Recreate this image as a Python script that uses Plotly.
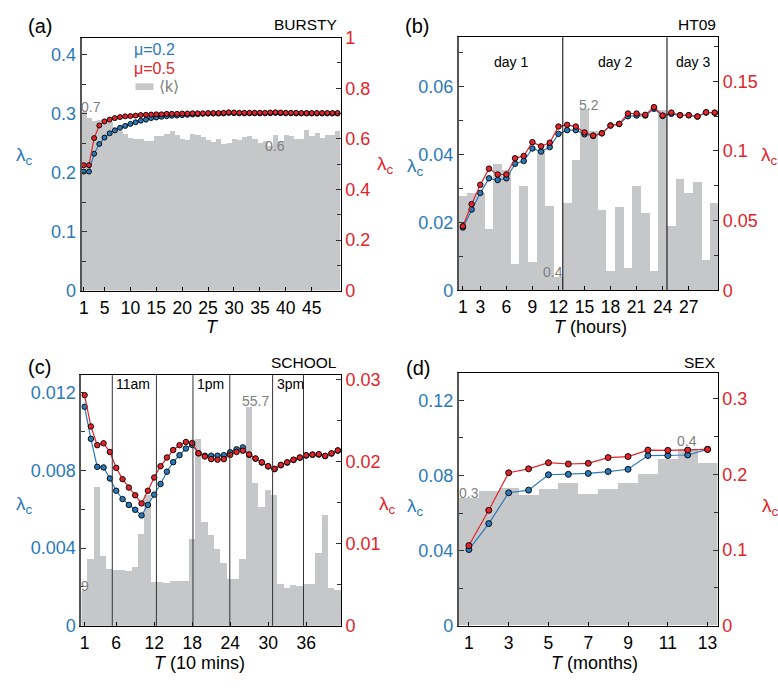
import plotly.graph_objects as go

W, H = 778, 688
BLUE = "#2a7ab9"
RED = "#e2242b"
BAR = "#c6c7c9"
GTXT = "#808080"
FONT = "Liberation Sans, Arial, Helvetica, sans-serif"

# ---------------- (a) BURSTY ----------------
T_a = list(range(1, 51))
blue_a = [0.2016, 0.2016, 0.2319, 0.2484, 0.2593, 0.2665, 0.2714, 0.2758, 0.2791, 0.2824,
          0.2852, 0.2879, 0.2896, 0.2923, 0.2934, 0.2945, 0.2956, 0.2962, 0.2967, 0.2973,
          0.2978, 0.2984, 0.2989, 0.2995, 0.2998, 0.2999, 0.3000, 0.3001, 0.3010, 0.3006,
          0.3003, 0.3003, 0.3003, 0.3003, 0.3002, 0.3003, 0.3005, 0.3010, 0.3006, 0.3003,
          0.3003, 0.3002, 0.3001, 0.3001, 0.3001, 0.3001, 0.3001, 0.3001, 0.3001, 0.3001]
red_a = [0.496, 0.496, 0.603, 0.653, 0.669, 0.676, 0.682, 0.686, 0.689, 0.690,
         0.692, 0.694, 0.695, 0.696, 0.697, 0.697, 0.699, 0.699, 0.699, 0.700,
         0.700, 0.701, 0.701, 0.701, 0.702, 0.702, 0.702, 0.703, 0.705, 0.704,
         0.703, 0.703, 0.703, 0.703, 0.703, 0.703, 0.704, 0.705, 0.704, 0.703,
         0.703, 0.703, 0.702, 0.702, 0.702, 0.702, 0.702, 0.702, 0.702, 0.702]
k_a = [0.708, 0.682, 0.672, 0.676, 0.678, 0.668, 0.650, 0.632, 0.622, 0.604,
       0.600, 0.600, 0.594, 0.594, 0.612, 0.612, 0.622, 0.632, 0.618, 0.600,
       0.598, 0.620, 0.618, 0.610, 0.598, 0.590, 0.602, 0.580, 0.585, 0.602,
       0.598, 0.610, 0.612, 0.600, 0.585, 0.592, 0.572, 0.615, 0.594, 0.618,
       0.612, 0.600, 0.600, 0.637, 0.612, 0.624, 0.605, 0.618, 0.615, 0.631]
xt_a = [1, 5, 10, 15, 20, 25, 30, 35, 40, 45]

# ---------------- (b) HT09 ----------------
T_b = list(range(1, 31))
blue_b = [0.0185, 0.0238, 0.0287, 0.0330, 0.0325, 0.0330, 0.0373, 0.0381, 0.0418, 0.0409,
          0.0422, 0.0461, 0.0472, 0.0472, 0.0460, 0.0455, 0.0463, 0.0486, 0.0490, 0.0513,
          0.0515, 0.0515, 0.0535, 0.0514, 0.0520, 0.0516, 0.0516, 0.0512, 0.0524, 0.0523]
red_b = [0.0460, 0.0618, 0.0757, 0.0873, 0.0831, 0.0831, 0.0947, 0.0964, 0.1063, 0.1033,
         0.1059, 0.1175, 0.1187, 0.1175, 0.1133, 0.1110, 0.1126, 0.1182, 0.1194, 0.1268,
         0.1268, 0.1259, 0.1314, 0.1254, 0.1275, 0.1256, 0.1256, 0.1247, 0.1277, 0.1275]
k_b = [2.69, 2.78, 2.78, 1.75, 3.61, 3.45, 0.74, 2.98, 0.81, 3.98,
       2.42, 0.37, 2.50, 3.73, 5.20, 4.56, 2.30, 0.54, 2.38, 0.63,
       2.98, 2.22, 0.56, 5.16, 1.84, 3.20, 2.79, 3.11, 0.86, 2.50]
xt_b = [1, 3, 6, 9, 12, 15, 18, 21, 24, 27]
day_bounds_b = [12.5, 24.5]
day_labels_b = ["day 1", "day 2", "day 3"]

# ---------------- (c) SCHOOL ----------------
T_c = list(range(1, 42))
blue_c = [0.01127, 0.00962, 0.00818, 0.00815, 0.00758, 0.00695, 0.00652, 0.00622, 0.00597, 0.00568,
          0.00622, 0.00675, 0.00730, 0.00793, 0.00842, 0.00878, 0.00912, 0.00930, 0.00888, 0.00875,
          0.00875, 0.00875, 0.00878, 0.00893, 0.00908, 0.00918, 0.00880, 0.00860, 0.00840, 0.00820,
          0.00806, 0.00826, 0.00840, 0.00853, 0.00865, 0.00876, 0.00880, 0.00881, 0.00873, 0.00886,
          0.00901]
red_c = [0.02811, 0.02429, 0.02201, 0.02224, 0.02118, 0.01925, 0.01787, 0.01685, 0.01591, 0.01492,
         0.01646, 0.01807, 0.01945, 0.02051, 0.02142, 0.02201, 0.02240, 0.02228, 0.02102, 0.02063,
         0.02031, 0.02024, 0.02031, 0.02083, 0.02118, 0.02134, 0.02087, 0.02039, 0.01992, 0.01945,
         0.01913, 0.01961, 0.01992, 0.02024, 0.02051, 0.02079, 0.02087, 0.02091, 0.02071, 0.02102,
         0.02138]
k_c = [8.9, 16.9, 35.4, 17.7, 14.4, 14.2, 14.1, 13.9, 14.9, 23.3,
       33.2, 11.1, 11.1, 10.8, 11.3, 11.3, 11.5, 22.1, 47.5, 26.4,
       23.0, 19.5, 16.1, 11.8, 11.8, 17.1, 55.7, 36.2, 30.3, 34.6,
       33.2, 10.7, 9.7, 10.3, 10.1, 10.7, 10.7, 18.4, 28.3, 9.7,
       9.1]
xt_c = [1, 6, 12, 18, 24, 30, 36]
class_bounds_c = [5.38, 12.35, 18.12, 23.94, 30.7, 35.58]
hour_labels_c = {5.38: "11am", 18.12: "1pm", 30.7: "3pm"}

# ---------------- (d) SEX ----------------
T_d = list(range(1, 14))
blue_d = [0.0406, 0.0544, 0.0708, 0.0722, 0.0804, 0.0806, 0.0811, 0.0821, 0.0833, 0.0906,
          0.0906, 0.0909, 0.0939]
red_d = [0.1060, 0.1526, 0.2022, 0.2073, 0.2154, 0.2137, 0.2146, 0.2222, 0.2235, 0.2321,
         0.2317, 0.2321, 0.2329]
k_d = [0.289, 0.305, 0.313, 0.296, 0.310, 0.323, 0.298, 0.310, 0.323, 0.343,
       0.378, 0.400, 0.369]
xt_d = [1, 3, 5, 7, 9, 11, 13]


def fmt(v):
    if v == 0:
        return "0"
    s = ("%.4f" % v).rstrip("0").rstrip(".")
    return s


panels = [
    dict(T=T_a, blue=blue_a, red=red_a, k=k_a, box=(79, 339, 28.5, 289),
         xr=[0.6, 50.6], yl=[0, 3 / 7], yr=[0, 1], yk=[0, 1], xt=xt_a,
         ylt=[0, 0.1, 0.2, 0.3, 0.4], ylm=0.05, yrt=[0, 0.2, 0.4, 0.6, 0.8, 1], yrm=0.1, ms=5),
    dict(T=T_b, blue=blue_b, red=red_b, k=k_b, box=(457.7, 718, 28, 288.7),
         xr=[0.54, 30.4], yl=[0, 0.0746], yr=[0, 0.1816], yk=[0, 7.26], xt=xt_b,
         ylt=[0, 0.02, 0.04, 0.06], ylm=0.01, yrt=[0, 0.05, 0.1, 0.15], yrm=0.025, ms=5.5),
    dict(T=T_c, blue=blue_c, red=red_c, k=k_c, box=(78.7, 339.3, 376, 634.3),
         xr=[0.5, 41.5], yl=[0, 0.0129], yr=[0, 0.03055], yk=[0, 63.8], xt=xt_c,
         ylt=[0, 0.004, 0.008, 0.012], ylm=0.002, yrt=[0, 0.01, 0.02, 0.03], yrm=0.005, ms=5.5),
    dict(T=T_d, blue=blue_d, red=red_d, k=k_d, box=(457.7, 717.3, 374.3, 634.3),
         xr=[0.5, 13.5], yl=[0, 0.1343], yr=[0, 0.3333], yk=[0, 0.573], xt=xt_d,
         ylt=[0, 0.04, 0.08, 0.12], ylm=0.02, yrt=[0, 0.1, 0.2, 0.3], yrm=0.05, ms=6),
]

fig = go.Figure()
layout = dict(width=W, height=H, margin=dict(l=0, r=0, t=0, b=0),
              paper_bgcolor="white", plot_bgcolor="white", showlegend=False,
              font=dict(family=FONT, color="black", size=16), bargap=0)

for i, p in enumerate(panels):
    xn = "" if i == 0 else str(i + 1)
    yb, yl, yr = 3 * i + 1, 3 * i + 2, 3 * i + 3
    ybn = "" if yb == 1 else str(yb)
    x0, x1, y0, y1 = p["box"]
    xdom = [x0 / W, x1 / W]
    ydom = [1 - y1 / H, 1 - y0 / H]

    fig.add_trace(go.Bar(x=p["T"], y=p["k"], width=1, marker=dict(color=BAR, line=dict(width=0)),
                         xaxis="x" + xn, yaxis="y" + ybn, hoverinfo="skip"))
    fig.add_trace(go.Scatter(x=p["T"], y=p["blue"], mode="lines+markers",
                             line=dict(color=BLUE, width=1.2),
                             marker=dict(size=p["ms"], color=BLUE, line=dict(color="black", width=0.9)),
                             xaxis="x" + xn, yaxis="y" + str(yl)))
    fig.add_trace(go.Scatter(x=p["T"], y=p["red"], mode="lines+markers",
                             line=dict(color=RED, width=1.2),
                             marker=dict(size=p["ms"], color=RED, line=dict(color="black", width=0.9)),
                             xaxis="x" + xn, yaxis="y" + str(yr)))

    layout["xaxis" + xn] = dict(domain=xdom, anchor="y" + ybn, range=p["xr"],
                                tickmode="array", tickvals=p["xt"], ticktext=[str(v) for v in p["xt"]],
                                ticks="inside", ticklen=4, tickcolor="black", ticklabelstandoff=1,
                                showline=True, linecolor="black", linewidth=1, mirror=True,
                                showgrid=False, zeroline=False,
                                tickfont=dict(size=17.5, color="black", family=FONT))
    layout["yaxis" + ybn] = dict(domain=ydom, anchor="x" + xn, range=p["yk"], visible=False,
                                 showgrid=False, zeroline=False)
    layout["yaxis" + str(yl)] = dict(overlaying="y" + ybn, side="left", anchor="x" + xn, range=p["yl"],
                                     tickmode="array", tickvals=p["ylt"], ticktext=[fmt(v) for v in p["ylt"]],
                                     ticks="inside", ticklen=5, tickcolor="#333",
                                     minor=dict(tickmode="linear", tick0=0, dtick=p["ylm"], ticks="inside",
                                                ticklen=4, tickcolor="#333"),
                                     showline=True, linecolor="#555", linewidth=2,
                                     showgrid=False, zeroline=False,
                                     tickfont=dict(size=18, color=BLUE, family=FONT))
    layout["yaxis" + str(yr)] = dict(overlaying="y" + ybn, side="right", anchor="x" + xn, range=p["yr"],
                                     tickmode="array", tickvals=p["yrt"], ticktext=[fmt(v) for v in p["yrt"]],
                                     ticks="inside", ticklen=5, tickcolor="#333",
                                     minor=dict(tickmode="linear", tick0=0, dtick=p["yrm"], ticks="inside",
                                                ticklen=4, tickcolor="#333"),
                                     showline=True, linecolor="black", linewidth=1,
                                     showgrid=False, zeroline=False,
                                     tickfont=dict(size=18, color=RED, family=FONT))

annotations = []
shapes = []


def ann(text, x, y, size, color="black", xanchor="center", yanchor="middle"):
    annotations.append(dict(text=text, x=x / W, y=1 - y / H, xref="paper", yref="paper",
                            xanchor=xanchor, yanchor=yanchor, showarrow=False,
                            font=dict(size=size, color=color, family=FONT)))


# panel labels and titles
for lab, x, y in [("(a)", 37, 16), ("(b)", 416, 16), ("(c)", 37, 368), ("(d)", 417, 369)]:
    ann(lab, x, y, 20)
for lab, x, y in [("BURSTY", 337, 15), ("HT09", 718, 15), ("SCHOOL", 337, 363), ("SEX", 718, 363)]:
    ann(lab, x, y, 15.5, xanchor="right")

# lambda_c axis labels
LC = "λ<sub>c</sub>"
for x, y, c in [(22, 150, BLUE), (384, 160, RED), (414, 162, BLUE), (769, 150, RED),
                (22, 510, BLUE), (386, 510, RED), (414, 512, BLUE), (770, 512, RED)]:
    ann(LC, x, y, 19, c)

# x-axis titles
for t, x, y in [("<i>T</i>", 210, 327), ("<i>T</i> (hours)", 590, 327),
                ("<i>T</i> (10 mins)", 197, 673), ("<i>T</i> (months)", 594, 673)]:
    ann(t, x, y, 18)

# grey value labels of <k>
for t, x, y in [("0.7", 88, 100), ("0.6", 273, 140), ("5.2", 588, 98), ("0.4", 552, 270),
                ("55.7", 253, 403), ("9", 82, 593), ("0.3", 468, 497), ("0.4", 687, 444)]:
    ann(t, x, y, 14, GTXT)

# legend in (a)
ann("μ=0.2", 152, 41, 16, BLUE)
ann("μ=0.5", 152, 60, 16, RED)
ann("⟨k⟩", 155, 79, 16, GTXT, xanchor="left")
shapes.append(dict(type="rect", xref="paper", yref="paper", x0=133 / W, x1=151 / W,
                   y0=1 - 82.5 / H, y1=1 - 75.5 / H, fillcolor=BAR, line=dict(width=0)))

# day boundaries (b)
bx = [panels[1]["xr"][0]] + day_bounds_b + [panels[1]["xr"][1]]
for xb in day_bounds_b:
    shapes.append(dict(type="line", xref="x2", yref="y4 domain", x0=xb, x1=xb, y0=0, y1=1,
                       line=dict(color="black", width=1), layer="above"))
for j, lab in enumerate(day_labels_b):
    annotations.append(dict(text=lab, x=(bx[j] + bx[j + 1]) / 2, y=1 - 43 / H, xref="x2", yref="paper",
                            showarrow=False, font=dict(size=14, color="black", family=FONT)))

# class boundaries (c)
for xb in class_bounds_c:
    shapes.append(dict(type="line", xref="x3", yref="y7 domain", x0=xb, x1=xb, y0=0, y1=1,
                       line=dict(color="#333", width=1), layer="above"))
    if xb in hour_labels_c:
        annotations.append(dict(text=hour_labels_c[xb], x=xb, y=1 - 385 / H, xref="x3", yref="paper",
                                xanchor="left", xshift=2, showarrow=False,
                                font=dict(size=14, color="black", family=FONT)))

layout["annotations"] = annotations
layout["shapes"] = shapes
fig.update_layout(**layout)

fig.write_html("out.html", config={"displayModeBar": False},
               post_script="document.body.style.margin='0px';")
